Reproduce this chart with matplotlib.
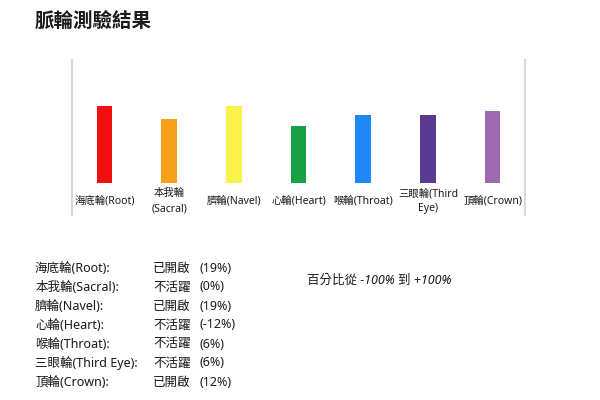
import matplotlib
matplotlib.use('Agg')
from matplotlib import pyplot as plt

# Chakra data
CN_NAMES = ['海底輪', '本我輪', '臍輪', '心輪', '喉輪', '三眼輪', '頂輪']
EN_NAMES = ['Root', 'Sacral', 'Navel', 'Heart', 'Throat', 'Third Eye', 'Crown']
BAR_LABELS = ['海底輪(Root)', '本我輪\n(Sacral)', '臍輪(Navel)', '心輪(Heart)',
              '喉輪(Throat)', '三眼輪(Third\nEye)', '頂輪(Crown)']
STATUS = ['已開啟', '不活躍', '已開啟', '不活躍', '不活躍', '不活躍', '已開啟']
PERCENT = [19, 0, 19, -12, 6, 6, 12]
COLORS = ['#f10f10', '#f8a11a', '#f9f24c', '#19a046', '#1e88f7', '#5a3b93', '#9d6bb0']

FONTS = ['Noto Sans', 'Noto Sans CJK TC']
TEXT_COLOR = '#1a1a1a'
BASE = -100

plt.rcParams['font.family'] = FONTS

fig = plt.figure(figsize=(6, 4), dpi=100)
fig.patch.set_facecolor('white')

# title
fig.text(35 / 600, 1 - 22 / 400, '脈輪測驗結果', fontsize=14, fontweight='bold',
         color=TEXT_COLOR, ha='left', va='center', family=['Noto Sans CJK TC'])

# bar chart, bars start at -100
ax = fig.add_axes([72 / 600, 1 - 183 / 400, 453 / 600, 123 / 400])
x = list(range(len(PERCENT)))
heights = [p - BASE for p in PERCENT]
ax.bar(x, heights, bottom=BASE, width=0.24, color=COLORS)
ax.set_xlim(-0.5, len(PERCENT) - 0.5)
ax.set_ylim(BASE, 90.7)
ax.set_yticks([])
ax.set_xticks(x)
ax.set_xticklabels(BAR_LABELS, fontsize=7.5, color=TEXT_COLOR, linespacing=1.5)
for lbl in ax.get_xticklabels():
    lbl.set_va('center')
ax.tick_params(axis='x', length=0, pad=13)
for side in ['top', 'bottom', 'left', 'right']:
    ax.spines[side].set_visible(False)
# light grey frame lines on the sides
for xs in [0, 1]:
    ax.plot([xs, xs], [1, -0.26], color='#d9d9d9', lw=1.5,
            transform=ax.transAxes, clip_on=False)

# result list below the chart
for i in range(len(PERCENT)):
    yy = 1 - (268 + 19 * i) / 400
    fig.text(35 / 600, yy, f'{CN_NAMES[i]}({EN_NAMES[i]}):', fontsize=9,
             color=TEXT_COLOR, va='center')
    fig.text(153 / 600, yy, STATUS[i], fontsize=9, color=TEXT_COLOR, va='center')
    fig.text(199 / 600, yy, f'({PERCENT[i]}%)', fontsize=9, color=TEXT_COLOR, va='center')

fig.text(307 / 600, 1 - 280 / 400, '百分比從 -100% 到 +100%', fontsize=9,
         style='italic', color=TEXT_COLOR, va='center')

fig.savefig('out.png', dpi=100)
